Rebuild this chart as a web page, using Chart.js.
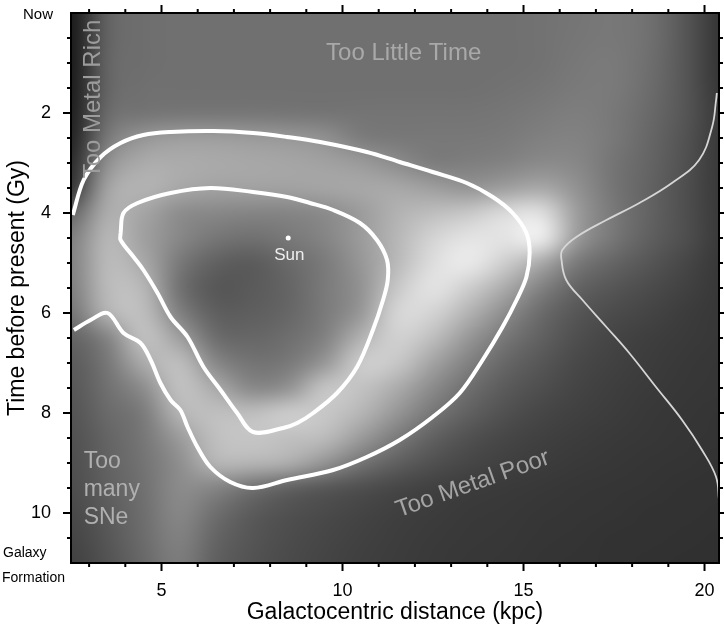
<!DOCTYPE html>
<html lang="en">

<head>
    <meta charset="UTF-8">
    <title>Galactic Habitable Zone</title>
    <script src="https://cdn.jsdelivr.net/npm/chart.js"></script>
    <style>
        html, body { margin: 0; padding: 0; background: #fff; }
        .chart-box { width: 724px; height: 630px; position: relative; }
    </style>
</head>

<body>
    <div class="chart-box">
        <canvas id="ghzChart"></canvas>
    </div>

    <script>
        // shaded map: grey level (0-255) at each grid node, rows = age, cols = distance
        const distNodes = [2.5, 3.5, 4.5, 5.5, 6.5, 7.5, 8.5, 9.5, 10.5, 11.5, 12.5, 13.5, 14.5, 15.5, 16.5, 17.5, 18.5, 19.5, 20.5];
        const ageNodes = [0, 0.5, 1, 1.5, 2, 2.5, 3, 3.5, 4, 4.5, 5, 5.5, 6, 6.5, 7, 7.5, 8, 8.5, 9, 9.5, 10, 10.5, 11];
        const shadeRows = [
            [24, 100, 110, 112, 112, 112, 112, 112, 112, 112, 112, 112, 112, 114, 117, 120, 112, 85, 50],
            [24, 100, 110, 112, 112, 112, 112, 112, 112, 112, 112, 112, 112, 114, 118, 120, 112, 85, 50],
            [24, 102, 110, 112, 112, 112, 112, 112, 112, 112, 112, 112, 112, 114, 120, 122, 110, 85, 50],
            [26, 102, 112, 112, 112, 112, 112, 112, 112, 112, 112, 112, 114, 117, 122, 122, 108, 85, 52],
            [28, 108, 116, 118, 118, 118, 117, 116, 116, 116, 116, 116, 118, 122, 126, 120, 105, 85, 55],
            [32, 122, 150, 158, 158, 155, 152, 145, 124, 120, 120, 120, 122, 128, 130, 120, 102, 82, 55],
            [40, 145, 172, 172, 170, 168, 166, 162, 155, 140, 124, 126, 130, 138, 135, 116, 100, 80, 55],
            [50, 165, 180, 168, 162, 162, 162, 165, 168, 168, 158, 148, 158, 168, 145, 116, 98, 78, 55],
            [100, 175, 165, 140, 135, 132, 132, 138, 155, 178, 190, 200, 220, 225, 155, 120, 98, 78, 56],
            [125, 185, 160, 135, 118, 112, 120, 132, 155, 182, 212, 228, 228, 240, 152, 118, 95, 78, 56],
            [128, 188, 170, 120, 96, 90, 105, 122, 150, 185, 222, 235, 205, 168, 120, 100, 85, 70, 55],
            [125, 188, 185, 112, 86, 90, 100, 122, 145, 200, 228, 205, 170, 128, 98, 85, 75, 65, 55],
            [115, 180, 192, 128, 94, 94, 102, 122, 150, 215, 212, 178, 140, 106, 85, 75, 68, 60, 55],
            [98, 130, 195, 160, 108, 102, 110, 128, 178, 210, 190, 150, 118, 96, 78, 68, 62, 58, 55],
            [90, 118, 172, 192, 135, 115, 120, 150, 205, 200, 162, 128, 102, 86, 72, 65, 60, 56, 54],
            [86, 112, 140, 195, 170, 135, 145, 198, 195, 172, 138, 110, 90, 78, 68, 62, 58, 55, 54],
            [83, 106, 122, 182, 192, 190, 205, 200, 182, 150, 118, 96, 80, 70, 64, 60, 56, 54, 52],
            [80, 100, 118, 155, 192, 198, 192, 188, 155, 122, 96, 80, 70, 64, 60, 57, 55, 53, 52],
            [78, 98, 115, 142, 182, 182, 175, 148, 116, 95, 80, 70, 64, 60, 57, 55, 53, 52, 50],
            [76, 95, 112, 140, 132, 112, 96, 86, 78, 70, 64, 60, 58, 56, 54, 53, 52, 50, 50],
            [72, 90, 110, 136, 110, 90, 80, 74, 68, 63, 60, 57, 56, 54, 53, 52, 50, 50, 49],
            [68, 86, 108, 130, 100, 85, 76, 70, 65, 61, 58, 56, 55, 53, 52, 50, 50, 49, 48],
            [64, 82, 104, 125, 95, 82, 74, 68, 63, 60, 57, 55, 54, 52, 51, 50, 49, 48, 48]
        ];

        // outer contour (open, both ends on the left edge)
        const outerX = [2.55, 2.85, 3.32, 3.87, 4.50, 5.25, 6.43, 7.53, 8.47, 9.38, 10.67, 11.58, 12.49, 13.43, 14.15, 14.70, 15.08, 15.17, 15.08, 14.81, 14.42, 13.87, 13.24, 12.49, 11.58, 10.67, 9.74, 8.47, 7.53, 6.90, 6.35, 5.99, 5.72, 5.52, 5.25, 4.97, 4.70, 4.42, 3.95, 3.51, 3.04, 2.58];
        const outerY = [4.04, 3.34, 2.88, 2.60, 2.44, 2.38, 2.36, 2.40, 2.48, 2.58, 2.78, 2.98, 3.18, 3.40, 3.68, 4.00, 4.40, 4.80, 5.28, 5.74, 6.28, 6.94, 7.60, 8.08, 8.54, 8.88, 9.14, 9.34, 9.50, 9.38, 9.08, 8.68, 8.28, 7.94, 7.74, 7.40, 6.94, 6.60, 6.40, 6.00, 6.14, 6.34];

        // inner contour (closed)
        const innerX = [3.87, 3.95, 4.34, 5.25, 6.35, 7.53, 8.47, 9.10, 9.74, 10.48, 10.95, 11.23, 11.25, 11.12, 10.84, 10.40, 9.85, 9.19, 8.75, 8.36, 7.53, 7.09, 6.63, 6.16, 5.72, 5.25, 4.89, 4.50, 4.23, 3.87, 3.87];
        const innerY = [4.40, 4.00, 3.80, 3.60, 3.50, 3.58, 3.68, 3.80, 3.94, 4.20, 4.54, 4.94, 5.34, 5.74, 6.34, 7.08, 7.60, 8.00, 8.20, 8.30, 8.38, 8.00, 7.54, 7.08, 6.48, 6.08, 5.60, 5.14, 4.88, 4.54, 4.40];

        // thin profile curve on the right
        const curveX = [20.34, 20.32, 20.21, 19.85, 19.10, 18.20, 17.29, 16.46, 16.07, 16.05, 16.18, 16.63, 17.29, 17.92, 18.66, 19.38, 19.93, 20.32, 20.40];
        const curveY = [1.60, 1.74, 2.28, 2.94, 3.40, 3.80, 4.14, 4.48, 4.74, 4.94, 5.34, 5.74, 6.28, 6.80, 7.48, 8.14, 8.74, 9.28, 9.74];

        const sunX = 8.5;
        const sunY = 4.5;

        const xMajorTicks = [5, 10, 15, 20];
        const xMinorTicks = [3, 4, 6, 7, 8, 9, 11, 12, 13, 14, 16, 17, 18, 19];
        const yMajorTicks = [2, 4, 6, 8, 10];
        const yMinorTicks = [0.5, 1, 1.5, 2.5, 3, 3.5, 4.5, 5, 5.5, 6.5, 7, 7.5, 8.5, 9, 9.5, 10.5];

        const FONT = '"Liberation Sans", Arial, Helvetica, sans-serif';

        function toPoints(xs, ys) {
            return xs.map((x, i) => ({ x: x, y: ys[i] }));
        }

        // draws the grey map under the datasets, stretched over the node grid
        const shadePlugin = {
            id: 'shadeMap',
            beforeDatasetsDraw(chart) {
                const { ctx, chartArea, scales: { x, y } } = chart;
                const w = distNodes.length, h = ageNodes.length;
                const off = document.createElement('canvas');
                off.width = w;
                off.height = h;
                const octx = off.getContext('2d');
                const img = octx.createImageData(w, h);
                shadeRows.forEach((row, j) => row.forEach((v, i) => {
                    const k = (j * w + i) * 4;
                    img.data[k] = v;
                    img.data[k + 1] = v;
                    img.data[k + 2] = v;
                    img.data[k + 3] = 255;
                }));
                octx.putImageData(img, 0, 0);
                const dx = (distNodes[1] - distNodes[0]) / 2;
                const dy = (ageNodes[1] - ageNodes[0]) / 2;
                const left = x.getPixelForValue(distNodes[0] - dx);
                const right = x.getPixelForValue(distNodes[w - 1] + dx);
                const top = y.getPixelForValue(ageNodes[0] - dy);
                const bottom = y.getPixelForValue(ageNodes[h - 1] + dy);
                ctx.save();
                ctx.beginPath();
                ctx.rect(chartArea.left, chartArea.top, chartArea.width, chartArea.height);
                ctx.clip();
                ctx.imageSmoothingEnabled = true;
                ctx.imageSmoothingQuality = 'high';
                ctx.drawImage(off, left, top, right - left, bottom - top);
                ctx.restore();
            }
        };

        // region labels, frame and tick marks
        const decorPlugin = {
            id: 'decor',
            afterDatasetsDraw(chart) {
                const { ctx, scales: { x, y } } = chart;
                ctx.save();
                ctx.textAlign = 'center';
                ctx.textBaseline = 'middle';

                ctx.fillStyle = '#a9a9a9';
                ctx.font = '24px ' + FONT;
                ctx.fillText('Too Little Time', x.getPixelForValue(11.69), y.getPixelForValue(0.8));

                ctx.save();
                ctx.translate(x.getPixelForValue(3.13), y.getPixelForValue(1.72));
                ctx.rotate(-Math.PI / 2);
                ctx.fillStyle = '#9c9c9c';
                ctx.font = '24px ' + FONT;
                ctx.fillText('Too Metal Rich', 0, 0);
                ctx.restore();

                ctx.save();
                ctx.translate(x.getPixelForValue(13.6), y.getPixelForValue(9.42));
                ctx.rotate(-19.5 * Math.PI / 180);
                ctx.fillStyle = '#a4a4a4';
                ctx.font = '24px ' + FONT;
                ctx.fillText('Too Metal Poor', 0, 0);
                ctx.restore();

                ctx.textAlign = 'left';
                ctx.fillStyle = '#b0b0b0';
                ctx.font = '23px ' + FONT;
                ctx.fillText('Too', x.getPixelForValue(2.85), y.getPixelForValue(8.98));
                ctx.fillText('many', x.getPixelForValue(2.85), y.getPixelForValue(9.54));
                ctx.fillText('SNe', x.getPixelForValue(2.85), y.getPixelForValue(10.1));

                ctx.textAlign = 'center';
                ctx.fillStyle = '#eeeeee';
                ctx.font = '17px ' + FONT;
                ctx.fillText('Sun', x.getPixelForValue(8.53), y.getPixelForValue(4.84));
                ctx.restore();
            },
            afterDraw(chart) {
                const { ctx, chartArea: a, scales: { x, y } } = chart;
                ctx.save();
                ctx.strokeStyle = '#000';
                ctx.lineWidth = 2;
                ctx.strokeRect(a.left, a.top, a.width, a.height);

                const tick = (px, py, dxv, dyv) => {
                    ctx.beginPath();
                    ctx.moveTo(px, py);
                    ctx.lineTo(px + dxv, py + dyv);
                    ctx.stroke();
                };
                xMajorTicks.forEach(v => {
                    const p = x.getPixelForValue(v);
                    tick(p, a.bottom, 0, 8);
                    tick(p, a.top, 0, -8);
                });
                xMinorTicks.forEach(v => {
                    const p = x.getPixelForValue(v);
                    tick(p, a.bottom, 0, 4);
                    tick(p, a.top, 0, -4);
                });
                yMajorTicks.forEach(v => {
                    const p = y.getPixelForValue(v);
                    tick(a.left, p, -8, 0);
                    tick(a.right, p, 5, 0);
                });
                yMinorTicks.forEach(v => {
                    const p = y.getPixelForValue(v);
                    tick(a.left, p, -4, 0);
                    tick(a.right, p, 4, 0);
                });

                ctx.fillStyle = '#000';
                ctx.font = '15px ' + FONT;
                ctx.textBaseline = 'middle';
                ctx.textAlign = 'right';
                ctx.fillText('Now', a.left - 18, y.getPixelForValue(0) + 2);
                ctx.textAlign = 'left';
                ctx.font = '14px ' + FONT;
                ctx.fillText('Galaxy', 3, y.getPixelForValue(11) - 10);
                ctx.fillText('Formation', 2, y.getPixelForValue(11) + 15);
                ctx.restore();
            }
        };

        new Chart(document.getElementById('ghzChart'), {
            type: 'scatter',
            data: {
                datasets: [
                    {
                        data: toPoints(outerX, outerY),
                        showLine: true,
                        borderColor: '#ffffff',
                        borderWidth: 4,
                        pointRadius: 0,
                        tension: 0.35
                    },
                    {
                        data: toPoints(innerX, innerY),
                        showLine: true,
                        borderColor: '#ffffff',
                        borderWidth: 4,
                        pointRadius: 0,
                        tension: 0.35
                    },
                    {
                        data: toPoints(curveX, curveY),
                        showLine: true,
                        borderColor: '#d6d6d6',
                        borderWidth: 1.8,
                        pointRadius: 0,
                        tension: 0.4
                    },
                    {
                        data: [{ x: sunX, y: sunY }],
                        pointRadius: 2.5,
                        backgroundColor: '#ffffff',
                        borderWidth: 0
                    }
                ]
            },
            options: {
                responsive: true,
                maintainAspectRatio: false,
                animation: false,
                devicePixelRatio: 1,
                layout: { padding: { top: 13, right: 5, left: 0, bottom: 0 } },
                plugins: {
                    legend: { display: false },
                    tooltip: { enabled: false }
                },
                scales: {
                    x: {
                        type: 'linear',
                        min: 2.5,
                        max: 20.4,
                        grid: { display: false, drawTicks: false },
                        border: { display: false },
                        afterBuildTicks: s => { s.ticks = xMajorTicks.map(v => ({ value: v })); },
                        afterFit: s => {
                            s.height = 67;
                            s.paddingLeft = 0;
                            s.paddingRight = 0;
                        },
                        ticks: {
                            color: '#000',
                            padding: 17,
                            maxRotation: 0,
                            font: { family: FONT, size: 18 }
                        },
                        title: {
                            display: true,
                            text: 'Galactocentric distance (kpc)',
                            color: '#000',
                            font: { family: FONT, size: 23 },
                            padding: { top: 0, bottom: 4 }
                        }
                    },
                    y: {
                        type: 'linear',
                        min: 0,
                        max: 11,
                        reverse: true,
                        grid: { display: false, drawTicks: false },
                        border: { display: false },
                        afterBuildTicks: s => { s.ticks = yMajorTicks.map(v => ({ value: v })); },
                        afterFit: s => {
                            s.width = 71;
                            s.paddingTop = 0;
                            s.paddingBottom = 0;
                        },
                        ticks: {
                            color: '#000',
                            padding: 20,
                            font: { family: FONT, size: 18 }
                        },
                        title: {
                            display: true,
                            text: 'Time before present (Gy)',
                            color: '#000',
                            font: { family: FONT, size: 23 },
                            padding: { top: 4, bottom: 0 }
                        }
                    }
                }
            },
            plugins: [shadePlugin, decorPlugin]
        });
    </script>
</body>

</html>
